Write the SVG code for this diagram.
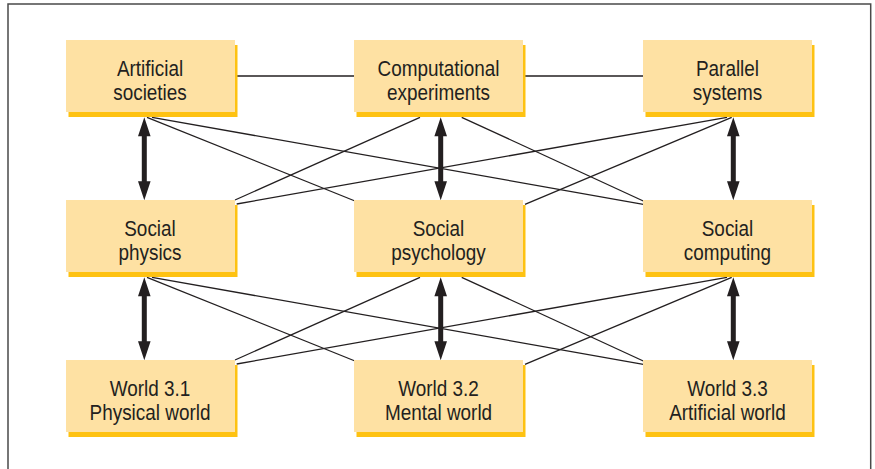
<svg xmlns="http://www.w3.org/2000/svg" xmlns:xlink="http://www.w3.org/1999/xlink" width="875" height="469" viewBox="0 0 875 469">
  <style>
    .frame { fill: none; stroke: #4a4a4a; stroke-width: 1.5; }
    .shadow { fill: #FEC212; }
    .box { fill: #FEE1A3; }
    .lbl { font-family: "Liberation Sans", Arial, sans-serif; font-size: 21.5px; fill: #231f20; text-anchor: middle; }
    .thin { stroke: #231f20; stroke-width: 1.3; fill: none; }
    .arr { fill: #231f20; }
  </style>
  <defs>
    <path id="dbl" d="M0,0 L6.3,19 L2.5,19 L2.5,64 L6.3,64 L0,83 L-6.3,64 L-2.5,64 L-2.5,19 L-6.3,19 Z"/>
  </defs>
  <rect class="frame" x="8" y="4" width="862.7" height="480"/>

  <g id="connectors">
    <line class="thin" x1="235" y1="76" x2="643" y2="76"/>
    <!-- row1 to row2 -->
    <line class="thin" x1="147" y1="117.3" x2="355" y2="201"/>
    <line class="thin" x1="152" y1="117.3" x2="643.3" y2="204.3"/>
    <line class="thin" x1="420" y1="117.3" x2="235" y2="200"/>
    <line class="thin" x1="727" y1="117.3" x2="236.7" y2="204"/>
    <line class="thin" x1="461.7" y1="117.3" x2="643.3" y2="201"/>
    <line class="thin" x1="731.7" y1="117.3" x2="525" y2="204.3"/>
    <!-- row2 to row3 -->
    <line class="thin" x1="147" y1="277.3" x2="355" y2="361"/>
    <line class="thin" x1="152" y1="277.3" x2="643.3" y2="364.3"/>
    <line class="thin" x1="420" y1="277.3" x2="235" y2="360"/>
    <line class="thin" x1="727" y1="277.3" x2="236.7" y2="364"/>
    <line class="thin" x1="461.7" y1="277.3" x2="643.3" y2="361"/>
    <line class="thin" x1="731.7" y1="277.3" x2="525" y2="364.3"/>
    <!-- double arrows -->
    <use class="arr" xlink:href="#dbl" href="#dbl" transform="translate(144.3 117.3)"/>
    <use class="arr" xlink:href="#dbl" href="#dbl" transform="translate(440.7 117.3)"/>
    <use class="arr" xlink:href="#dbl" href="#dbl" transform="translate(733.3 117.3)"/>
    <use class="arr" xlink:href="#dbl" href="#dbl" transform="translate(144.3 277.3)"/>
    <use class="arr" xlink:href="#dbl" href="#dbl" transform="translate(440.7 277.3)"/>
    <use class="arr" xlink:href="#dbl" href="#dbl" transform="translate(733.3 277.3)"/>
  </g>

  <g id="artificial-societies">
    <rect class="shadow" x="68.5" y="45" width="169" height="72"/>
    <rect class="box" x="66" y="40" width="169" height="72"/>
    <text class="lbl" transform="translate(150 76) scale(0.88 1)">Artificial</text>
    <text class="lbl" transform="translate(150 100) scale(0.88 1)">societies</text>
  </g>
  <g id="computational-experiments">
    <rect class="shadow" x="356.5" y="45" width="169" height="72"/>
    <rect class="box" x="354" y="40" width="169" height="72"/>
    <text class="lbl" transform="translate(438.5 76) scale(0.88 1)">Computational</text>
    <text class="lbl" transform="translate(438.5 100) scale(0.88 1)">experiments</text>
  </g>
  <g id="parallel-systems">
    <rect class="shadow" x="645.5" y="45" width="169" height="72"/>
    <rect class="box" x="643" y="40" width="169" height="72"/>
    <text class="lbl" transform="translate(727.5 76) scale(0.88 1)">Parallel</text>
    <text class="lbl" transform="translate(727.5 100) scale(0.88 1)">systems</text>
  </g>

  <g id="social-physics">
    <rect class="shadow" x="68.5" y="205" width="169" height="72"/>
    <rect class="box" x="66" y="200" width="169" height="72"/>
    <text class="lbl" transform="translate(150 236) scale(0.88 1)">Social</text>
    <text class="lbl" transform="translate(150 260) scale(0.88 1)">physics</text>
  </g>
  <g id="social-psychology">
    <rect class="shadow" x="356.5" y="205" width="169" height="72"/>
    <rect class="box" x="354" y="200" width="169" height="72"/>
    <text class="lbl" transform="translate(438.5 236) scale(0.88 1)">Social</text>
    <text class="lbl" transform="translate(438.5 260) scale(0.88 1)">psychology</text>
  </g>
  <g id="social-computing">
    <rect class="shadow" x="645.5" y="205" width="169" height="72"/>
    <rect class="box" x="643" y="200" width="169" height="72"/>
    <text class="lbl" transform="translate(727.5 236) scale(0.88 1)">Social</text>
    <text class="lbl" transform="translate(727.5 260) scale(0.88 1)">computing</text>
  </g>

  <g id="world-3-1">
    <rect class="shadow" x="68.5" y="365" width="169" height="72"/>
    <rect class="box" x="66" y="360" width="169" height="72"/>
    <text class="lbl" transform="translate(150 396) scale(0.88 1)">World 3.1</text>
    <text class="lbl" transform="translate(150 420) scale(0.88 1)">Physical world</text>
  </g>
  <g id="world-3-2">
    <rect class="shadow" x="356.5" y="365" width="169" height="72"/>
    <rect class="box" x="354" y="360" width="169" height="72"/>
    <text class="lbl" transform="translate(438.5 396) scale(0.88 1)">World 3.2</text>
    <text class="lbl" transform="translate(438.5 420) scale(0.88 1)">Mental world</text>
  </g>
  <g id="world-3-3">
    <rect class="shadow" x="645.5" y="365" width="169" height="72"/>
    <rect class="box" x="643" y="360" width="169" height="72"/>
    <text class="lbl" transform="translate(727.5 396) scale(0.88 1)">World 3.3</text>
    <text class="lbl" transform="translate(727.5 420) scale(0.88 1)">Artificial world</text>
  </g>
</svg>
